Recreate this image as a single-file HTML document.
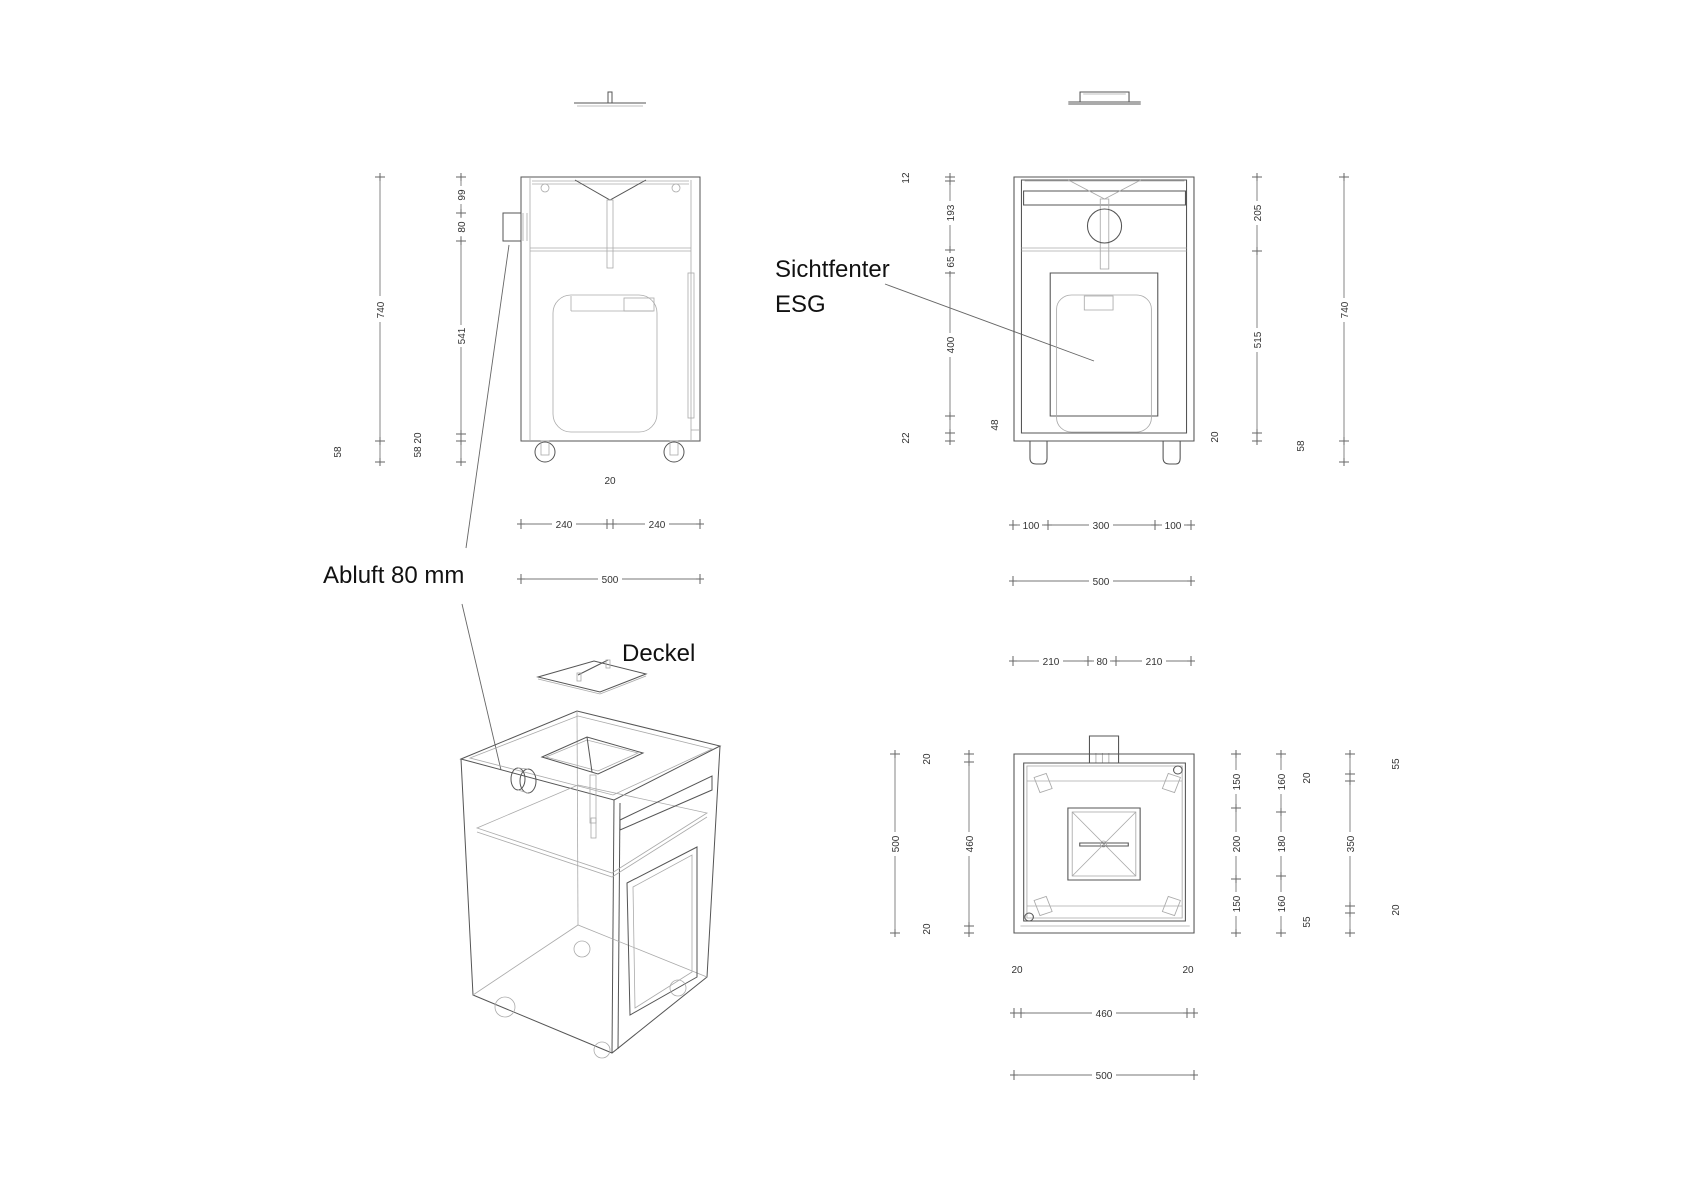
<!DOCTYPE html>
<html><head><meta charset="utf-8"><style>
html,body{margin:0;padding:0;background:#fff}
svg{display:block}
.l{stroke:#555;stroke-width:1;fill:none}
.f{stroke:#aaa;stroke-width:0.8;fill:none}
.d{stroke:#777;stroke-width:0.9;fill:none}
.t{font-family:"Liberation Sans",sans-serif;font-size:10px;fill:#333}
.big{font-family:"Liberation Sans",sans-serif;font-size:24px;fill:#111}
</style></head><body>
<svg width="1697" height="1200" viewBox="0 0 1697 1200" xmlns="http://www.w3.org/2000/svg">
<defs>
<g id="tv"><line x1="-5" y1="0" x2="5" y2="0" stroke="#666"/><line x1="0" y1="-4" x2="0" y2="4" stroke="#666"/></g>
<g id="th"><line x1="0" y1="-5" x2="0" y2="5" stroke="#666"/><line x1="-4" y1="0" x2="4" y2="0" stroke="#666"/></g>
</defs>

<!-- ===== Side view (left top) ===== -->
<g>
<line class="l" x1="574" y1="103" x2="646" y2="103"/>
<line class="f" x1="577" y1="106" x2="643" y2="106"/>
<rect class="l" x="608" y="92" width="4" height="11"/>

<rect class="l" x="521" y="177" width="179" height="264"/>
<line class="f" x1="530" y1="177" x2="530" y2="441"/>
<line class="f" x1="691" y1="180" x2="691" y2="441"/>
<line class="f" x1="532" y1="181" x2="689" y2="181"/>
<line class="f" x1="532" y1="184" x2="689" y2="184"/>
<line class="f" x1="530" y1="248" x2="691" y2="248"/>
<line class="f" x1="530" y1="251" x2="691" y2="251"/>
<path class="l" d="M575 180 L610 200 L646 180"/>
<rect class="f" x="607" y="200" width="6" height="68"/>
<circle class="f" cx="545" cy="188" r="4"/><circle class="f" cx="676" cy="188" r="4"/>
<rect class="f" x="553" y="295" width="104" height="137" rx="18"/>
<line class="f" x1="571" y1="296" x2="571" y2="311"/><line class="f" x1="571" y1="311" x2="653" y2="311"/>
<rect class="f" x="624" y="298" width="30" height="13"/>
<rect class="f" x="688" y="273" width="6" height="145"/>
<line class="f" x1="691" y1="430" x2="700" y2="430"/>
<rect class="l" x="503" y="213" width="18" height="28"/>
<line class="f" x1="523" y1="213" x2="523" y2="241"/><line class="f" x1="527" y1="213" x2="527" y2="241"/>
<circle class="l" cx="545" cy="452" r="10"/><rect class="f" x="541" y="441" width="8" height="14"/>
<circle class="l" cx="674" cy="452" r="10"/><rect class="f" x="670" y="441" width="8" height="14"/>

<line class="d" x1="380" y1="177" x2="380" y2="462"/>
<use href="#tv" x="380" y="177"/><use href="#tv" x="380" y="441"/><use href="#tv" x="380" y="462"/>
<rect x="374" y="296" width="12" height="26" fill="#fff"/>
<text class="t" transform="translate(384,310) rotate(-90)" text-anchor="middle">740</text>

<line class="d" x1="461" y1="177" x2="461" y2="462"/>
<use href="#tv" x="461" y="177"/><use href="#tv" x="461" y="213"/><use href="#tv" x="461" y="241"/><use href="#tv" x="461" y="434"/><use href="#tv" x="461" y="441"/><use href="#tv" x="461" y="462"/>
<rect x="455" y="186" width="12" height="18" fill="#fff"/><text class="t" transform="translate(465,195) rotate(-90)" text-anchor="middle">99</text>
<rect x="455" y="218" width="12" height="18" fill="#fff"/><text class="t" transform="translate(465,227) rotate(-90)" text-anchor="middle">80</text>
<rect x="455" y="325" width="12" height="22" fill="#fff"/><text class="t" transform="translate(465,336) rotate(-90)" text-anchor="middle">541</text>
<text class="t" transform="translate(341,452) rotate(-90)" text-anchor="middle">58</text>
<text class="t" transform="translate(421,445) rotate(-90)" text-anchor="middle">58 20</text>
<text class="t" x="610" y="484" text-anchor="middle">20</text>

<line class="d" x1="521" y1="524" x2="700" y2="524"/>
<use href="#th" x="521" y="524"/><use href="#th" x="607" y="524"/><use href="#th" x="613" y="524"/><use href="#th" x="700" y="524"/>
<rect x="552" y="518" width="24" height="12" fill="#fff"/><text class="t" x="564" y="528" text-anchor="middle">240</text>
<rect x="645" y="518" width="24" height="12" fill="#fff"/><text class="t" x="657" y="528" text-anchor="middle">240</text>
<line class="d" x1="521" y1="579" x2="700" y2="579"/>
<use href="#th" x="521" y="579"/><use href="#th" x="700" y="579"/>
<rect x="598" y="573" width="24" height="12" fill="#fff"/><text class="t" x="610" y="583" text-anchor="middle">500</text>
</g>

<!-- leaders and labels -->
<line x1="509" y1="245" x2="466" y2="548" stroke="#666" stroke-width="0.9"/>
<line x1="462" y1="604" x2="501" y2="770" stroke="#666" stroke-width="0.9"/>
<text class="big" x="323" y="583">Abluft 80 mm</text>
<text class="big" x="622" y="661">Deckel</text>
<text class="big" x="775" y="277">Sichtfenter</text>
<text class="big" x="775" y="312">ESG</text>
<line x1="885" y1="284" x2="1094" y2="361" stroke="#666" stroke-width="0.9"/>

<!-- Lid iso -->
<path class="l" d="M538 677 L594 661 L646 674 L600 692 Z"/>
<path class="f" d="M538 679 L600 694 L646 676"/>
<line class="l" x1="578" y1="675" x2="608" y2="660"/>
<rect class="f" x="577" y="673" width="4" height="8"/><rect class="f" x="606" y="660" width="4" height="8"/>

<!-- ===== Iso view ===== -->
<g>
<path class="l" d="M461 759 L577 711 L720 746 L614 800 Z"/>
<path class="f" d="M470 758 L578 716 L712 749 L613 795 Z"/>
<path class="l" d="M461 759 L473 995 L612 1053 L707 977 L720 746"/>
<line class="l" x1="614" y1="800" x2="612" y2="1053"/>
<line class="l" x1="620" y1="803" x2="618" y2="1049"/>
<line class="f" x1="577" y1="711" x2="578" y2="925"/>
<path class="f" d="M473 995 L578 925 L707 977"/>
<path class="f" d="M477 828 L578 785 L707 813 L612 873 Z"/>
<path class="f" d="M477 832 L612 877 L707 817"/>
<path class="l" d="M542 757 L587 737 L643 753 L598 774 Z"/>
<path class="f" d="M546 757 L587 740 L638 753 L598 771 Z"/>
<line class="l" x1="587" y1="737" x2="592" y2="772"/>
<rect class="f" x="590" y="775" width="6" height="48"/>
<rect class="f" x="591" y="818" width="5" height="20"/>
<path class="l" d="M620 820 L712 776 L712 790 L620 830 Z"/>
<path class="l" d="M627 883 L697 847 L697 977 L630 1015 Z"/>
<path class="f" d="M633 887 L692 855 L692 972 L635 1008 Z"/>
<ellipse class="l" cx="528" cy="781" rx="8" ry="12"/>
<ellipse class="l" cx="518" cy="779" rx="7" ry="11"/>
<line class="f" x1="518" y1="768" x2="528" y2="769"/><line class="f" x1="518" y1="790" x2="528" y2="793"/>
<circle class="f" cx="505" cy="1007" r="10"/><circle class="f" cx="582" cy="949" r="8"/><circle class="f" cx="602" cy="1050" r="8"/><circle class="f" cx="678" cy="988" r="8"/>
</g>

<!-- ===== Front view (right top) ===== -->
<g transform="translate(1014,0) scale(1.065,1) translate(-1005,0)">
<line class="l" x1="1056" y1="102" x2="1124" y2="102"/>
<line class="l" x1="1056" y1="104" x2="1124" y2="104"/>
<path class="l" d="M1067 102 L1067 92 L1113 92 L1113 102"/>
<line class="f" x1="1070" y1="94" x2="1110" y2="94"/>

<rect class="l" x="1005" y="177" width="169" height="264"/>
<rect class="l" x="1012" y="180" width="155" height="253"/>
<line class="f" x1="1015" y1="181" x2="1165" y2="181"/>
<rect class="l" x="1014" y="191" width="152" height="14"/>
<line class="f" x1="1012" y1="248" x2="1167" y2="248"/>
<line class="f" x1="1012" y1="251" x2="1167" y2="251"/>
<path class="f" d="M1056 180 L1090 199 L1124 180"/>
<rect class="f" x="1086" y="199" width="8" height="70"/>
<ellipse class="l" cx="1090" cy="226" rx="16" ry="17"/>
<rect class="l" x="1039" y="273" width="101" height="143"/>
<rect class="f" x="1045" y="295" width="89" height="137" rx="14"/>
<rect class="f" x="1071" y="296" width="27" height="14"/>
<path class="l" d="M1020 441 L1020 458 Q1020 464 1026 464 L1032 464 Q1036 464 1036 458 L1036 441"/>
<path class="l" d="M1145 441 L1145 458 Q1145 464 1151 464 L1157 464 Q1161 464 1161 458 L1161 441"/>
</g>

<g>
<line class="d" x1="950" y1="177" x2="950" y2="441"/>
<use href="#tv" x="950" y="177"/><use href="#tv" x="950" y="181"/><use href="#tv" x="950" y="250"/><use href="#tv" x="950" y="273"/><use href="#tv" x="950" y="416"/><use href="#tv" x="950" y="433"/><use href="#tv" x="950" y="441"/>
<rect x="944" y="201" width="12" height="24" fill="#fff"/><text class="t" transform="translate(954,213) rotate(-90)" text-anchor="middle">193</text>
<rect x="944" y="253" width="12" height="18" fill="#fff"/><text class="t" transform="translate(954,262) rotate(-90)" text-anchor="middle">65</text>
<rect x="944" y="333" width="12" height="24" fill="#fff"/><text class="t" transform="translate(954,345) rotate(-90)" text-anchor="middle">400</text>
<text class="t" transform="translate(909,178) rotate(-90)" text-anchor="middle">12</text>
<text class="t" transform="translate(909,438) rotate(-90)" text-anchor="middle">22</text>
<text class="t" transform="translate(998,425) rotate(-90)" text-anchor="middle">48</text>

<line class="d" x1="1257" y1="177" x2="1257" y2="441"/>
<use href="#tv" x="1257" y="177"/><use href="#tv" x="1257" y="251"/><use href="#tv" x="1257" y="433"/><use href="#tv" x="1257" y="441"/>
<rect x="1251" y="201" width="12" height="24" fill="#fff"/><text class="t" transform="translate(1261,213) rotate(-90)" text-anchor="middle">205</text>
<rect x="1251" y="328" width="12" height="24" fill="#fff"/><text class="t" transform="translate(1261,340) rotate(-90)" text-anchor="middle">515</text>
<text class="t" transform="translate(1218,437) rotate(-90)" text-anchor="middle">20</text>

<line class="d" x1="1344" y1="177" x2="1344" y2="462"/>
<use href="#tv" x="1344" y="177"/><use href="#tv" x="1344" y="441"/><use href="#tv" x="1344" y="462"/>
<rect x="1338" y="298" width="12" height="24" fill="#fff"/><text class="t" transform="translate(1348,310) rotate(-90)" text-anchor="middle">740</text>
<text class="t" transform="translate(1304,446) rotate(-90)" text-anchor="middle">58</text>

<line class="d" x1="1013" y1="525" x2="1191" y2="525"/>
<use href="#th" x="1013" y="525"/><use href="#th" x="1048" y="525"/><use href="#th" x="1155" y="525"/><use href="#th" x="1191" y="525"/>
<rect x="1020" y="519" width="22" height="12" fill="#fff"/><text class="t" x="1031" y="529" text-anchor="middle">100</text>
<rect x="1089" y="519" width="24" height="12" fill="#fff"/><text class="t" x="1101" y="529" text-anchor="middle">300</text>
<rect x="1162" y="519" width="22" height="12" fill="#fff"/><text class="t" x="1173" y="529" text-anchor="middle">100</text>
<line class="d" x1="1013" y1="581" x2="1191" y2="581"/>
<use href="#th" x="1013" y="581"/><use href="#th" x="1191" y="581"/>
<rect x="1089" y="575" width="24" height="12" fill="#fff"/><text class="t" x="1101" y="585" text-anchor="middle">500</text>
<line class="d" x1="1013" y1="661" x2="1191" y2="661"/>
<use href="#th" x="1013" y="661"/><use href="#th" x="1088" y="661"/><use href="#th" x="1116" y="661"/><use href="#th" x="1191" y="661"/>
<rect x="1039" y="655" width="24" height="12" fill="#fff"/><text class="t" x="1051" y="665" text-anchor="middle">210</text>
<rect x="1094" y="655" width="16" height="12" fill="#fff"/><text class="t" x="1102" y="665" text-anchor="middle">80</text>
<rect x="1142" y="655" width="24" height="12" fill="#fff"/><text class="t" x="1154" y="665" text-anchor="middle">210</text>
</g>

<!-- ===== Top view (bottom right) ===== -->
<g transform="translate(1014,0) scale(1.078,1) translate(-1004,0)">
<rect class="l" x="1074" y="736" width="27" height="27"/>
<line class="f" x1="1080" y1="753" x2="1080" y2="763"/><line class="f" x1="1086" y1="753" x2="1086" y2="763"/><line class="f" x1="1092" y1="753" x2="1092" y2="763"/>
<rect class="l" x="1004" y="754" width="167" height="179"/>
<rect class="l" x="1013" y="763" width="150" height="158"/>
<rect class="f" x="1016" y="766" width="144" height="152"/>
<line class="f" x1="1016" y1="781" x2="1160" y2="781"/><line class="f" x1="1016" y1="906" x2="1160" y2="906"/>
<line class="f" x1="1010" y1="926" x2="1167" y2="926"/>
<rect class="f" x="1025" y="775" width="12" height="16" transform="rotate(-20 1031 783)"/>
<rect class="f" x="1144" y="775" width="12" height="16" transform="rotate(20 1150 783)"/>
<rect class="f" x="1025" y="898" width="12" height="16" transform="rotate(-20 1031 906)"/>
<rect class="f" x="1144" y="898" width="12" height="16" transform="rotate(20 1150 906)"/>
<circle class="l" cx="1156" cy="770" r="4"/><circle class="l" cx="1018" cy="917" r="4"/>
<rect class="l" x="1054" y="808" width="67" height="72"/>
<rect class="f" x="1058" y="812" width="59" height="64"/>
<line class="f" x1="1058" y1="812" x2="1117" y2="876"/><line class="f" x1="1117" y1="812" x2="1058" y2="876"/>
<rect class="l" x="1065" y="843" width="45" height="3"/>
<circle class="f" cx="1087" cy="844" r="3"/>
</g>

<g>
<line class="d" x1="895" y1="754" x2="895" y2="933"/>
<use href="#tv" x="895" y="754"/><use href="#tv" x="895" y="933"/>
<rect x="889" y="832" width="12" height="24" fill="#fff"/><text class="t" transform="translate(899,844) rotate(-90)" text-anchor="middle">500</text>
<text class="t" transform="translate(930,759) rotate(-90)" text-anchor="middle">20</text>
<text class="t" transform="translate(930,929) rotate(-90)" text-anchor="middle">20</text>
<line class="d" x1="969" y1="754" x2="969" y2="933"/>
<use href="#tv" x="969" y="754"/><use href="#tv" x="969" y="762"/><use href="#tv" x="969" y="926"/><use href="#tv" x="969" y="933"/>
<rect x="963" y="832" width="12" height="24" fill="#fff"/><text class="t" transform="translate(973,844) rotate(-90)" text-anchor="middle">460</text>

<line class="d" x1="1236" y1="754" x2="1236" y2="933"/>
<use href="#tv" x="1236" y="754"/><use href="#tv" x="1236" y="808"/><use href="#tv" x="1236" y="879"/><use href="#tv" x="1236" y="933"/>
<rect x="1230" y="770" width="12" height="24" fill="#fff"/><text class="t" transform="translate(1240,782) rotate(-90)" text-anchor="middle">150</text>
<rect x="1230" y="832" width="12" height="24" fill="#fff"/><text class="t" transform="translate(1240,844) rotate(-90)" text-anchor="middle">200</text>
<rect x="1230" y="892" width="12" height="24" fill="#fff"/><text class="t" transform="translate(1240,904) rotate(-90)" text-anchor="middle">150</text>
<line class="d" x1="1281" y1="754" x2="1281" y2="933"/>
<use href="#tv" x="1281" y="754"/><use href="#tv" x="1281" y="812"/><use href="#tv" x="1281" y="876"/><use href="#tv" x="1281" y="933"/>
<rect x="1275" y="770" width="12" height="24" fill="#fff"/><text class="t" transform="translate(1285,782) rotate(-90)" text-anchor="middle">160</text>
<rect x="1275" y="832" width="12" height="24" fill="#fff"/><text class="t" transform="translate(1285,844) rotate(-90)" text-anchor="middle">180</text>
<rect x="1275" y="892" width="12" height="24" fill="#fff"/><text class="t" transform="translate(1285,904) rotate(-90)" text-anchor="middle">160</text>
<text class="t" transform="translate(1310,778) rotate(-90)" text-anchor="middle">20</text>
<text class="t" transform="translate(1310,922) rotate(-90)" text-anchor="middle">55</text>
<line class="d" x1="1350" y1="754" x2="1350" y2="933"/>
<use href="#tv" x="1350" y="754"/><use href="#tv" x="1350" y="774"/><use href="#tv" x="1350" y="781"/><use href="#tv" x="1350" y="906"/><use href="#tv" x="1350" y="913"/><use href="#tv" x="1350" y="933"/>
<rect x="1344" y="832" width="12" height="24" fill="#fff"/><text class="t" transform="translate(1354,844) rotate(-90)" text-anchor="middle">350</text>
<text class="t" transform="translate(1399,764) rotate(-90)" text-anchor="middle">55</text>
<text class="t" transform="translate(1399,910) rotate(-90)" text-anchor="middle">20</text>

<text class="t" x="1017" y="973" text-anchor="middle">20</text>
<text class="t" x="1188" y="973" text-anchor="middle">20</text>
<line class="d" x1="1014" y1="1013" x2="1194" y2="1013"/>
<use href="#th" x="1014" y="1013"/><use href="#th" x="1021" y="1013"/><use href="#th" x="1187" y="1013"/><use href="#th" x="1194" y="1013"/>
<rect x="1092" y="1007" width="24" height="12" fill="#fff"/><text class="t" x="1104" y="1017" text-anchor="middle">460</text>
<line class="d" x1="1014" y1="1075" x2="1194" y2="1075"/>
<use href="#th" x="1014" y="1075"/><use href="#th" x="1194" y="1075"/>
<rect x="1092" y="1069" width="24" height="12" fill="#fff"/><text class="t" x="1104" y="1079" text-anchor="middle">500</text>
</g>
</svg>
</body></html>
